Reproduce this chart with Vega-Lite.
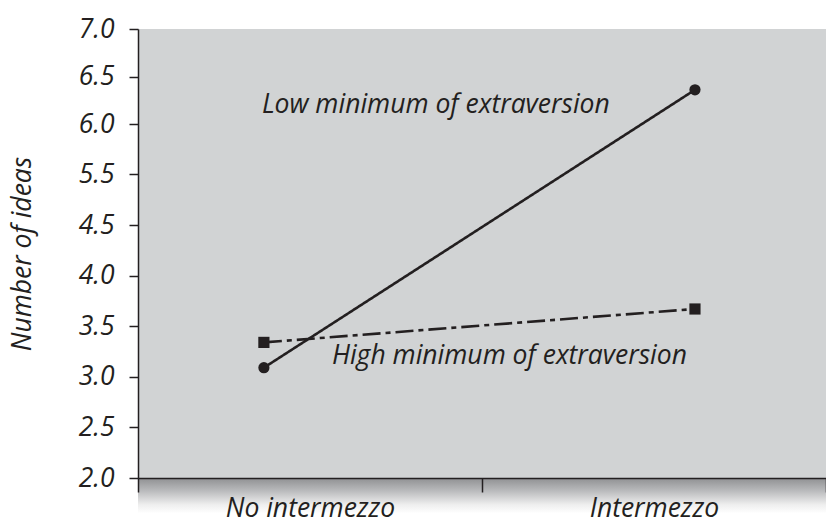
{
  "$schema": "https://vega.github.io/schema/vega-lite/v6.json",
  "width": 688,
  "height": 449,
  "autosize": {"type": "none"},
  "padding": {"left": 138, "top": 29, "right": 0, "bottom": 46},
  "background": "white",
  "config": {"view": {"fill": "#d1d3d4", "stroke": null}, "font": "Open Sans"},
  "data": {"values": [
    {"condition": "No intermezzo", "group": "Low minimum of extraversion", "ideas": 3.09},
    {"condition": "Intermezzo", "group": "Low minimum of extraversion", "ideas": 6.36},
    {"condition": "No intermezzo", "group": "High minimum of extraversion", "ideas": 3.34},
    {"condition": "Intermezzo", "group": "High minimum of extraversion", "ideas": 3.67}
  ]},
  "resolve": {"scale": {"x": "independent"}, "axis": {"x": "independent"}},
  "layer": [
    {
      "mark": {"type": "rect", "fill": {"gradient": "linear", "x1": 0, "y1": 0, "x2": 0, "y2": 1, "stops": [{"offset": 0, "color": "#8f9092"}, {"offset": 0.35, "color": "#b8b9bb"}, {"offset": 0.75, "color": "#eeeeee"}, {"offset": 1, "color": "#ffffff"}]}},
      "encoding": {
        "x": {"field": "condition", "type": "nominal", "sort": ["No intermezzo", "Intermezzo"],
          "scale": {"type": "band", "paddingInner": 0, "paddingOuter": 0},
          "axis": {"title": null, "labelFont": "Open Sans", "labelFontSize": 26.5, "labelFontStyle": "italic", "labelColor": "#231f20", "labelAngle": 0, "tickBand": "extent", "tickSize": 14, "tickColor": "#231f20", "tickWidth": 1.5, "domainColor": "#231f20", "domainWidth": 1.5, "labelPadding": 3, "zindex": 1}},
        "y": {"datum": 2, "type": "quantitative"},
        "y2": {"datum": 1.65}
      }
    },
    {
      "layer": [
        {
          "mark": {"type": "line", "strokeWidth": 2.6, "color": "#231f20"},
          "encoding": {
            "x": {"field": "condition", "type": "nominal", "sort": ["No intermezzo", "Intermezzo"], "scale": {"type": "point", "padding": 0.298, "align": 0.49}, "axis": null},
            "y": {"field": "ideas", "type": "quantitative",
              "scale": {"domain": [2, 4.5, 5.5, 6, 7], "range": [449, 196, 145, 95, 0], "nice": false, "zero": false},
              "axis": {"title": "Number of ideas", "values": [2, 2.5, 3, 3.5, 4, 4.5, 5.5, 6, 6.5, 7], "format": ".1f", "grid": false, "labelOverlap": false, "labelFont": "Open Sans", "labelFontSize": 26.5, "labelFontStyle": "italic", "labelColor": "#231f20", "tickSize": 9, "tickColor": "#231f20", "tickWidth": 1.5, "domainColor": "#231f20", "domainWidth": 1.5, "labelPadding": 15, "titleFont": "Open Sans", "titleFontSize": 26.5, "titleFontStyle": "italic", "titleFontWeight": "normal", "titleColor": "#231f20", "titlePadding": 42, "zindex": 1}},
            "strokeDash": {"field": "group", "type": "nominal", "scale": {"domain": ["Low minimum of extraversion", "High minimum of extraversion"], "range": [[1, 0], [18, 5, 5, 5]]}, "legend": null}
          }
        },
        {
          "mark": {"type": "point", "filled": true, "opacity": 1, "color": "#231f20"},
          "encoding": {
            "x": {"field": "condition", "type": "nominal", "sort": ["No intermezzo", "Intermezzo"], "scale": {"type": "point", "padding": 0.298, "align": 0.49}, "axis": null},
            "y": {"field": "ideas", "type": "quantitative"},
            "shape": {"field": "group", "type": "nominal", "scale": {"domain": ["Low minimum of extraversion", "High minimum of extraversion"], "range": ["circle", "square"]}, "legend": null},
            "size": {"field": "group", "type": "nominal", "scale": {"domain": ["Low minimum of extraversion", "High minimum of extraversion"], "range": [125, 125]}, "legend": null}
          }
        },
        {
          "data": {"values": [{"label": "Low minimum of extraversion", "condition": "No intermezzo", "pos": 6.12}]},
          "mark": {"type": "text", "align": "left", "baseline": "alphabetic", "font": "Open Sans", "fontSize": 26.5, "fontStyle": "italic", "color": "#231f20", "dx": -2},
          "encoding": {
            "x": {"field": "condition", "type": "nominal", "sort": ["No intermezzo", "Intermezzo"], "scale": {"type": "point", "padding": 0.298, "align": 0.49}, "axis": null},
            "y": {"field": "pos", "type": "quantitative"},
            "text": {"field": "label"}
          }
        },
        {
          "data": {"values": [{"label": "High minimum of extraversion", "condition": "Intermezzo", "pos": 3.13}]},
          "mark": {"type": "text", "align": "right", "baseline": "alphabetic", "font": "Open Sans", "fontSize": 26.5, "fontStyle": "italic", "color": "#231f20", "dx": -8},
          "encoding": {
            "x": {"field": "condition", "type": "nominal", "sort": ["No intermezzo", "Intermezzo"], "scale": {"type": "point", "padding": 0.298, "align": 0.49}, "axis": null},
            "y": {"field": "pos", "type": "quantitative"},
            "text": {"field": "label"}
          }
        }
      ]
    }
  ]
}
